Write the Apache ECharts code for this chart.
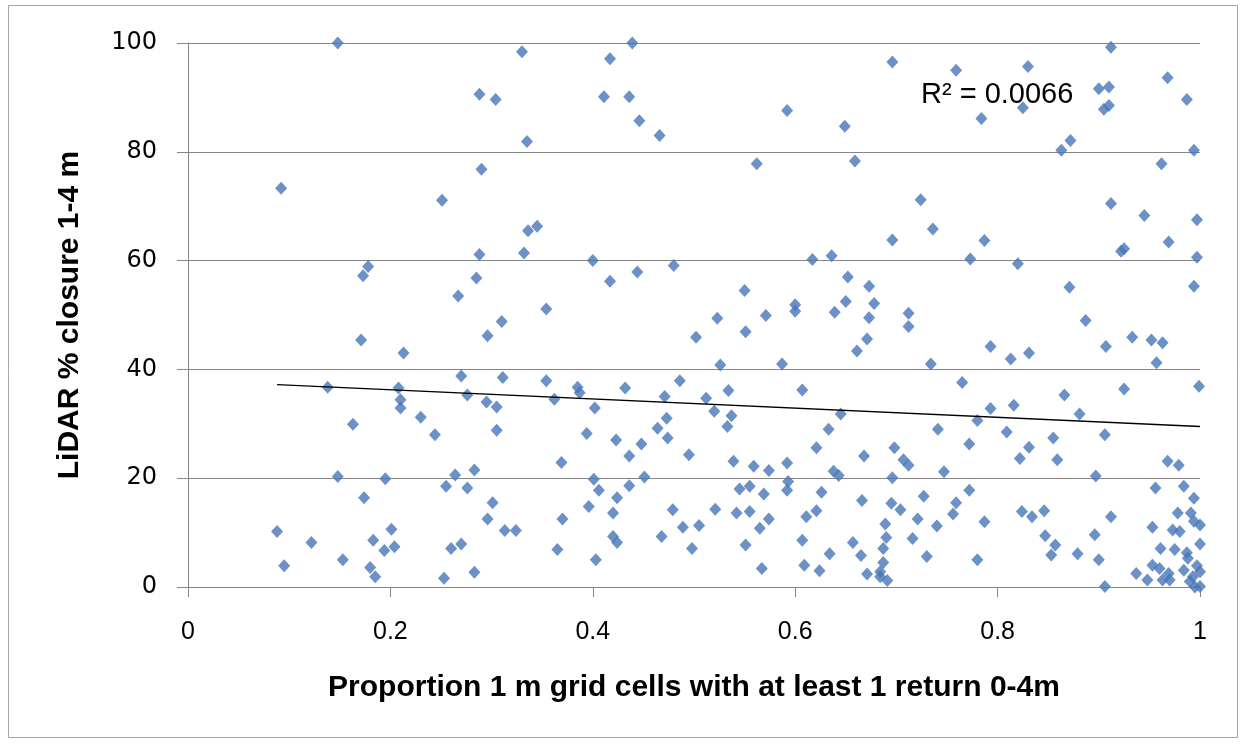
<!DOCTYPE html>
<html>
<head>
<meta charset="utf-8">
<title>LiDAR closure vs return proportion</title>
<script src="https://cdn.jsdelivr.net/npm/echarts@6/dist/echarts.min.js"></script>
<style>
  html, body { margin: 0; padding: 0; background: #ffffff; }
  #chart { width: 1245px; height: 744px; }
</style>
</head>
<body>
<div id="chart"></div>
<script>
// Proportion of 1 m grid cells with at least one return (0-4 m)
const proportion = [
  0.148, 0.092, 0.251, 0.178, 0.173, 0.171, 0.213, 0.138, 0.208, 0.210,
  0.210, 0.230, 0.163, 0.244, 0.148, 0.195, 0.174, 0.088, 0.201, 0.122,
  0.183, 0.204, 0.194, 0.095, 0.153, 0.180, 0.185, 0.253, 0.330, 0.417,
  0.288, 0.304, 0.411, 0.335, 0.290, 0.336, 0.345, 0.288, 0.332, 0.400,
  0.285, 0.267, 0.354, 0.310, 0.417, 0.296, 0.270, 0.311, 0.354, 0.385,
  0.387, 0.276, 0.362, 0.295, 0.305, 0.402, 0.305, 0.394, 0.369, 0.264,
  0.283, 0.255, 0.276, 0.401, 0.406, 0.301, 0.396, 0.296, 0.370, 0.313,
  0.324, 0.260, 0.270, 0.365, 0.403, 0.283, 0.439, 0.436, 0.446, 0.466,
  0.562, 0.444, 0.480, 0.550, 0.523, 0.571, 0.502, 0.551, 0.526, 0.587,
  0.432, 0.486, 0.534, 0.471, 0.512, 0.520, 0.537, 0.473, 0.533, 0.464,
  0.474, 0.423, 0.448, 0.436, 0.495, 0.539, 0.559, 0.574, 0.451, 0.436,
  0.424, 0.545, 0.555, 0.569, 0.420, 0.479, 0.521, 0.542, 0.555, 0.574,
  0.565, 0.489, 0.505, 0.420, 0.424, 0.468, 0.498, 0.551, 0.567, 0.696,
  0.592, 0.649, 0.659, 0.724, 0.736, 0.696, 0.617, 0.636, 0.652, 0.673,
  0.650, 0.678, 0.600, 0.600, 0.639, 0.712, 0.673, 0.712, 0.671, 0.661,
  0.734, 0.607, 0.645, 0.633, 0.741, 0.621, 0.668, 0.698, 0.707, 0.712,
  0.592, 0.638, 0.643, 0.747, 0.593, 0.592, 0.696, 0.626, 0.727, 0.666,
  0.695, 0.704, 0.611, 0.621, 0.721, 0.740, 0.689, 0.690, 0.687, 0.607,
  0.657, 0.716, 0.634, 0.665, 0.730, 0.609, 0.624, 0.687, 0.671, 0.684,
  0.684, 0.691, 0.912, 0.830, 0.759, 0.968, 0.900, 0.910, 0.987, 0.825,
  0.905, 0.910, 0.784, 0.863, 0.872, 0.994, 0.962, 0.912, 0.945, 0.997,
  0.787, 0.969, 0.922, 0.925, 0.773, 0.820, 0.997, 0.871, 0.994, 0.887,
  0.933, 0.952, 0.963, 0.793, 0.907, 0.813, 0.831, 0.957, 0.765, 0.866,
  0.925, 0.999, 0.793, 0.816, 0.780, 0.881, 0.809, 0.906, 0.772, 0.855,
  0.831, 0.822, 0.859, 0.968, 0.979, 0.897, 0.772, 0.956, 0.984, 0.994,
  0.759, 0.756, 0.824, 0.834, 0.846, 0.912, 0.787, 0.978, 0.991, 0.994,
  1.000, 0.953, 0.973, 0.980, 0.847, 0.896, 0.857, 0.853, 1.000, 0.961,
  0.975, 0.987, 0.988, 0.879, 0.780, 0.900, 0.953, 0.960, 0.969, 0.984,
  0.997, 1.000, 0.937, 0.948, 0.963, 0.970, 0.990, 0.995, 1.000, 0.906,
  0.993
];

// LiDAR % canopy closure between 1 and 4 m, same order as above
const closure = [
  100.0, 73.3, 71.1, 58.9, 57.2, 45.4, 43.0, 36.7, 36.6, 34.4,
  32.9, 31.2, 29.9, 28.0, 20.3, 19.9, 16.4, 10.2, 10.6, 8.2,
  8.6, 7.4, 6.7, 3.9, 5.0, 3.6, 1.9, 1.6, 98.4, 97.1,
  90.6, 89.6, 90.1, 81.9, 76.8, 65.5, 66.3, 61.1, 61.4, 60.0,
  56.8, 53.5, 51.1, 48.8, 56.2, 46.2, 38.8, 38.5, 37.9, 36.7,
  35.7, 35.3, 34.5, 34.0, 33.1, 32.9, 28.8, 28.2, 22.9, 20.6,
  21.5, 18.5, 18.2, 19.8, 17.8, 15.5, 14.8, 12.5, 12.5, 10.4,
  10.4, 7.1, 7.9, 6.9, 5.0, 2.7, 100.0, 90.1, 85.7, 83.0,
  77.8, 57.9, 59.1, 54.5, 49.4, 49.9, 45.9, 46.9, 40.8, 41.0,
  36.6, 37.9, 36.1, 35.0, 34.7, 32.3, 31.5, 31.0, 29.5, 29.2,
  27.4, 27.0, 26.3, 24.1, 24.3, 23.1, 22.2, 21.4, 20.2, 18.6,
  16.4, 18.0, 18.5, 17.1, 13.6, 14.2, 14.3, 13.6, 13.9, 12.5,
  10.8, 11.0, 11.3, 9.3, 8.2, 9.3, 7.1, 7.7, 3.4, 96.5,
  87.6, 84.7, 78.3, 71.2, 65.8, 63.8, 60.2, 60.9, 57.0, 55.3,
  52.5, 52.1, 51.9, 50.7, 50.5, 50.3, 49.5, 47.9, 45.6, 43.4,
  41.0, 36.2, 31.8, 29.0, 29.0, 25.6, 24.1, 25.6, 23.4, 22.4,
  22.8, 21.3, 20.5, 21.2, 19.4, 17.8, 20.1, 17.4, 16.7, 15.9,
  15.4, 14.2, 12.9, 14.0, 12.5, 11.2, 11.6, 9.1, 7.1, 8.6,
  8.2, 8.9, 6.1, 5.8, 5.6, 4.0, 3.0, 4.5, 2.4, 2.8,
  1.9, 1.2, 99.2, 95.7, 95.0, 93.6, 91.6, 91.9, 89.6, 88.1,
  87.8, 88.5, 86.1, 80.3, 82.1, 80.3, 77.8, 70.5, 68.3, 67.5,
  63.7, 63.4, 61.7, 62.2, 60.3, 59.4, 60.6, 55.1, 55.3, 49.0,
  45.9, 45.4, 44.9, 44.2, 44.2, 41.9, 43.0, 41.2, 37.6, 35.3,
  36.4, 36.9, 32.8, 33.4, 30.6, 31.8, 28.5, 28.0, 26.3, 27.4,
  25.7, 23.6, 23.4, 23.1, 22.4, 20.4, 17.8, 18.2, 18.5, 16.3,
  15.5, 13.4, 13.9, 12.9, 14.0, 12.9, 12.0, 13.6, 13.6, 12.1,
  11.4, 11.0, 10.5, 10.2, 9.4, 9.6, 7.7, 5.9, 7.9, 7.1,
  6.9, 6.3, 5.3, 6.1, 5.0, 5.0, 4.0, 3.4, 2.5, 3.1,
  3.9, 2.8, 2.5, 1.3, 1.3, 1.3, 1.0, 0.0, 0.1, 0.1,
  1.9
];

// Linear trendline coefficients and goodness of fit
const trendIntercept = 37.95;
const trendSlope = -8.45;
const rSquared = 0.0066;

// Axis tick values
const xTicks = [0, 0.2, 0.4, 0.6, 0.8, 1];
const yTicks = [0, 20, 40, 60, 80, 100];

const points = proportion.map((x, i) => [x, closure[i]]);
const xMin = Math.min(...proportion);
const xMax = Math.max(...proportion);
const trend = [xMin, xMax].map(x => [x, trendIntercept + trendSlope * x]);

const axisGray = '#868686';
const chart = echarts.init(document.getElementById('chart'), null, { renderer: 'canvas' });

chart.setOption({
  backgroundColor: '#ffffff',
  animation: false,
  grid: { left: 188, right: 45, top: 43, bottom: 157, containLabel: false },
  xAxis: {
    type: 'value',
    min: xTicks[0],
    max: xTicks[xTicks.length - 1],
    interval: 0.2,
    name: 'Proportion 1 m grid cells with at least 1 return 0-4m',
    nameLocation: 'middle',
    nameGap: 86,
    nameTextStyle: { fontFamily: 'Liberation Sans', fontWeight: 'bold', fontSize: 30, color: '#000' },
    axisLine: { show: true, onZero: false, lineStyle: { color: axisGray, width: 1 } },
    axisTick: { show: true, length: 10, lineStyle: { color: axisGray } },
    axisLabel: {
      margin: 33,
      fontFamily: 'Liberation Sans',
      fontSize: 25,
      color: '#000',
      formatter: v => String(Math.round(v * 10) / 10)
    },
    splitLine: { show: false }
  },
  yAxis: {
    type: 'value',
    min: yTicks[0],
    max: yTicks[yTicks.length - 1],
    interval: 20,
    name: 'LiDAR % closure 1-4 m',
    nameLocation: 'middle',
    nameGap: 103,
    nameRotate: 90,
    nameTextStyle: { fontFamily: 'Liberation Sans', fontWeight: 'bold', fontSize: 30, color: '#000' },
    axisLine: { show: true, onZero: false, lineStyle: { color: axisGray, width: 1 } },
    axisTick: { show: true, length: 11, lineStyle: { color: axisGray } },
    axisLabel: {
      margin: 31,
      fontFamily: 'DejaVu Sans',
      fontSize: 24,
      color: '#000'
    },
    splitLine: { show: true, lineStyle: { color: axisGray, width: 1 } }
  },
  series: [
    {
      type: 'scatter',
      data: points,
      symbol: 'diamond',
      symbolSize: [12, 13],
      itemStyle: { color: '#4676b8' },
      z: 3
    },
    {
      type: 'line',
      data: trend,
      symbol: 'none',
      lineStyle: { color: '#000', width: 1.3 },
      silent: true,
      z: 4
    }
  ],
  graphic: [
    {
      type: 'rect',
      shape: { x: 8.5, y: 5.5, width: 1229, height: 732 },
      style: { fill: 'none', stroke: '#a6a6a6', lineWidth: 1 },
      z: -1,
      silent: true
    },
    {
      type: 'text',
      left: 921,
      top: 80,
      style: {
        text: 'R\u00b2 = ' + rSquared.toFixed(4),
        fontFamily: 'Liberation Sans',
        fontSize: 29,
        fill: '#000'
      },
      z: 10
    }
  ]
});
</script>
</body>
</html>
